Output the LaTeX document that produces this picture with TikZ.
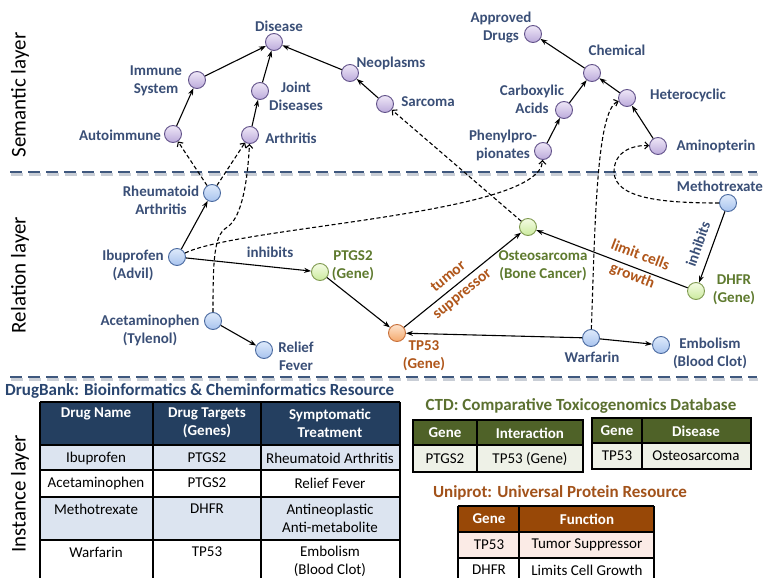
\documentclass[tikz,border=0pt]{standalone}
\usepackage{fontspec}
\setmainfont{Carlito}
\usetikzlibrary{arrows.meta}
\definecolor{lblblue}{HTML}{3A4F77}
\definecolor{lblgreen}{HTML}{5E7A2E}
\definecolor{lblorange}{HTML}{B0561A}
\definecolor{sepblue}{HTML}{3F587E}
\definecolor{sepshadow}{HTML}{C9CED6}
\definecolor{navy}{HTML}{243F60}
\definecolor{navylight}{HTML}{DCE4F0}
\definecolor{olive}{HTML}{4F6228}
\definecolor{olivelight}{HTML}{EEF1E7}
\definecolor{brownhd}{HTML}{984807}
\definecolor{brownlight}{HTML}{FBEBE6}
\definecolor{ttlnavy}{HTML}{2A4670}
\definecolor{ttlolive}{HTML}{5B7030}
\definecolor{ttlbrown}{HTML}{A2521A}
\definecolor{semdraw}{HTML}{62528A}
\definecolor{semtop}{HTML}{EEE7F7}
\definecolor{sembot}{HTML}{BCAADB}
\definecolor{reldraw}{HTML}{4A6AA0}
\definecolor{reltop}{HTML}{DEEAFB}
\definecolor{relbot}{HTML}{A8C3EE}
\definecolor{gendraw}{HTML}{7F9A50}
\definecolor{gentop}{HTML}{F4FCE3}
\definecolor{genbot}{HTML}{CBEA9E}
\definecolor{tpdraw}{HTML}{C8703A}
\definecolor{tptop}{HTML}{FDE3CC}
\definecolor{tpbot}{HTML}{F4A86C}
\tikzset{
  dot/.style={circle, minimum size=17pt, inner sep=0pt, line width=0.9pt},
  sem/.style={dot, draw=semdraw, top color=semtop, bottom color=sembot},
  rel/.style={dot, draw=reldraw, top color=reltop, bottom color=relbot},
  gen/.style={dot, draw=gendraw, top color=gentop, bottom color=genbot},
  tpg/.style={dot, draw=tpdraw, top color=tptop, bottom color=tpbot},
  lbl/.style={font=\fontsize{15}{18}\selectfont\bfseries, text=lblblue, align=center, inner sep=0pt},
  glbl/.style={lbl, text=lblgreen},
  olbl/.style={lbl, text=lblorange},
  elbl/.style={font=\fontsize{15.5}{22}\selectfont\bfseries, text=lblorange, align=center, inner sep=0pt},
  layerlbl/.style={font=\fontsize{21}{24}\selectfont, text=black, rotate=90, inner sep=0pt},
  arr/.style={draw, line width=1.1pt, -{Stealth[length=7pt,width=5pt]}},
  darr/.style={draw, line width=1.1pt, dash pattern=on 4pt off 2.5pt, -{Straight Barb[length=3.5pt,width=7pt]}},
  sepline/.style={draw=sepblue, line width=2.2pt, dash pattern=on 12pt off 6pt},
  sepshade/.style={draw=sepshadow, line width=2.2pt, dash pattern=on 12pt off 6pt},
  cell/.style={font=\fontsize{15}{18}\selectfont, align=center, inner sep=0pt},
  hcell/.style={cell, font=\fontsize{15}{18}\selectfont\bfseries, text=white},
  ttl/.style={font=\fontsize{17}{20}\selectfont\bfseries, inner sep=0pt},
  grid/.style={draw=black, line width=1.2pt}
}
\begin{document}
\begin{tikzpicture}[x=1pt,y=-1pt]
\clip (0,0) rectangle (763,578);
\fill[white] (0,0) rectangle (763,578);

% separators
\draw[sepshade] (11,174.5) -- (758,174.5);
\draw[sepline] (10,172) -- (757,172);
\draw[sepshade] (11,379.5) -- (758,379.5);
\draw[sepline] (10,377) -- (757,377);

% layer labels
\node[layerlbl] (Lsem) at (20,95) {Semantic layer};
\node[layerlbl] (Lrel) at (20,275) {Relation layer};
\node[layerlbl] (Lins) at (20,494) {Instance layer};

% semantic nodes
\node[sem] (disease) at (274,42) {};
\node[sem] (immune) at (197,80) {};
\node[sem] (joint) at (260,91) {};
\node[sem] (autoimm) at (173,134) {};
\node[sem] (arth) at (250,135) {};
\node[sem] (neo) at (350,73) {};
\node[sem] (sarc) at (385,104) {};
\node[sem] (approved) at (533,34) {};
\node[sem] (chem) at (592,73) {};
\node[sem] (carb) at (564,110) {};
\node[sem] (het) at (627,98) {};
\node[sem] (phen) at (543,151) {};
\node[sem] (amin) at (658,146) {};

\node[lbl] (Ldisease) at (279,26) {Disease};
\node[lbl] (Limmune) at (156,81) {Immune\\System};
\node[lbl] (Ljoint) at (296,96) {Joint\\Diseases};
\node[lbl] (Lautoimm) at (120,135) {Autoimmune};
\node[lbl] (Larth) at (291,138) {Arthritis};
\node[lbl] (Lneo) at (391,63) {Neoplasms};
\node[lbl] (Lsarc) at (428,102) {Sarcoma};
\node[lbl] (Lapproved) at (501,28) {Approved\\Drugs};
\node[lbl] (Lchem) at (617,50) {Chemical};
\node[lbl] (Lcarb) at (532,99) {Carboxylic\\Acids};
\node[lbl] (Lhet) at (688,95) {Heterocyclic};
\node[lbl] (Lphen) at (503,145) {Phenylpro-\\pionates};
\node[lbl] (Lamin) at (716,146) {Aminopterin};

\draw[arr] (immune) -- (disease);
\draw[arr] (joint) -- (disease);
\draw[arr] (neo) -- (disease);
\draw[arr] (autoimm) -- (immune);
\draw[arr] (arth) -- (joint);
\draw[arr] (sarc) -- (neo);
\draw[arr] (chem) -- (approved);
\draw[arr] (carb) -- (chem);
\draw[arr] (het) -- (chem);
\draw[arr] (phen) -- (carb);
\draw[arr] (amin) -- (het);

% relation nodes
\node[rel] (ra) at (212,193) {};
\node[rel] (ibu) at (177,257) {};
\node[rel] (acet) at (213,321) {};
\node[rel] (relief) at (264,350) {};
\node[gen] (ptgs) at (320,272) {};
\node[tpg] (tp53) at (397,333) {};
\node[gen] (osteo) at (528,227) {};
\node[rel] (meth) at (728,203) {};
\node[gen] (dhfr) at (696,291) {};
\node[rel] (warf) at (591,338) {};
\node[rel] (embol) at (661,345) {};

\node[lbl] (Lra) at (161,200) {Rheumatoid\\Arthritis};
\node[lbl] (Libu) at (133,265) {Ibuprofen\\(Advil)};
\node[lbl] (Lacet) at (150,330) {Acetaminophen\\(Tylenol)};
\node[lbl] (Lrelief) at (296,356) {Relief\\Fever};
\node[glbl] (Lptgs) at (353,266) {PTGS2\\(Gene)};
\node[olbl] (Ltp53) at (424,356) {TP53\\(Gene)};
\node[glbl] (Losteo) at (543,266) {Osteosarcoma\\(Bone Cancer)};
\node[lbl] (Lmeth) at (720,186) {Methotrexate};
\node[glbl] (Ldhfr) at (734,290) {DHFR\\(Gene)};
\node[lbl] (Lwarf) at (592,357) {Warfarin};
\node[lbl] (Lembol) at (710,353) {Embolism\\(Blood Clot)};
\node[lbl] (Linh1) at (270,252) {inhibits};
\node[lbl, rotate=70.5] (Linh2) at (698,244) {inhibits};

\draw[arr] (ibu) -- (ra);
\draw[arr] (ibu) -- (ptgs);
\draw[arr] (ptgs) -- (tp53);
\draw[arr] (acet) -- (relief);
\draw[arr] (tp53) -- node[elbl, sloped, pos=0.44] {tumor\\suppressor} (osteo);
\draw[arr] (dhfr) -- node[elbl, sloped, pos=0.345, yshift=2pt] {limit cells\\growth} (osteo);
\draw[arr] (meth) -- (dhfr);
\draw[arr] (warf) -- (tp53);
\draw[arr] (warf) -- (embol);

% cross-layer dashed links
\coordinate (bendA) at (226,228);
\coordinate (loopM) at (614,172);
\draw[darr] (ra) -- (autoimm);
\draw[darr] (ra) -- (arth);
\draw[darr] (acet) .. controls (213,260) and (214,236) .. (bendA) .. controls (240,220) and (247,190) .. (arth);
\draw[darr] (ibu) .. controls (240,226) and (540,215) .. (phen);
\draw[darr] (osteo) -- (sarc);
\draw[darr] (warf) .. controls (595,230) and (596,110) .. (het);
\draw[darr] (meth) .. controls (660,203) and (615,198) .. (loopM) .. controls (614,150) and (635,145) .. (amin);

% ---------- DrugBank table ----------
\node[ttl, text=ttlnavy, anchor=west] (T1) at (5,391) {DrugBank: Bioinformatics \& Cheminformatics Resource};
\fill[navy] (40,402) rectangle (400,445);
\fill[navylight] (40,445) rectangle (400,470);
\fill[navylight] (40,497) rectangle (400,540);
\draw[grid] (40,402) -- (40,590);
\draw[grid] (153,402) -- (153,590);
\draw[grid] (261,402) -- (261,590);
\draw[grid] (400,402) -- (400,590);
\draw[grid] (40,402) -- (400,402);
\draw[grid] (40,445) -- (400,445);
\draw[grid] (40,470) -- (400,470);
\draw[grid] (40,497) -- (400,497);
\draw[grid] (40,540) -- (400,540);
\node[hcell] (h11) at (96,414) {Drug Name};
\node[hcell] (h12) at (207,423) {Drug Targets\\(Genes)};
\node[hcell] (h13) at (330,423) {Symptomatic\\Treatment};
\node[cell] (c11) at (96,458) {Ibuprofen};
\node[cell] (c12) at (207,458) {PTGS2};
\node[cell] (c13) at (330,458) {Rheumatoid Arthritis};
\node[cell] (c21) at (96,483) {Acetaminophen};
\node[cell] (c22) at (207,483) {PTGS2};
\node[cell] (c23) at (330,483) {Relief Fever};
\node[cell] (c31) at (96,509) {Methotrexate};
\node[cell] (c32) at (207,509) {DHFR};
\node[cell] (c33) at (330,518) {Antineoplastic\\Anti-metabolite};
\node[cell] (c41) at (96,552) {Warfarin};
\node[cell] (c42) at (207,552) {TP53};
\node[cell] (c43) at (330,561) {Embolism\\(Blood Clot)};

% ---------- CTD tables ----------
\node[ttl, text=ttlolive] (T2) at (581,406) {CTD: Comparative Toxicogenomics Database};
\fill[olive] (413,420) rectangle (583,445);
\fill[olivelight] (413,445) rectangle (583,472);
\draw[grid] (413,420) rectangle (583,472);
\draw[grid] (413,445) -- (583,445);
\draw[grid] (477,420) -- (477,472);
\node[hcell] (d11) at (445,433) {Gene};
\node[hcell] (d12) at (530,433) {Interaction};
\node[cell] (d21) at (445,459) {PTGS2};
\node[cell] (d22) at (530,459) {TP53 (Gene)};

\fill[olive] (592,418) rectangle (751,443);
\fill[olivelight] (592,443) rectangle (751,469);
\draw[grid] (592,418) rectangle (751,469);
\draw[grid] (592,443) -- (751,443);
\draw[grid] (642,418) -- (642,469);
\node[hcell] (e11) at (617,431) {Gene};
\node[hcell] (e12) at (696,431) {Disease};
\node[cell] (e21) at (617,456) {TP53};
\node[cell] (e22) at (696,456) {Osteosarcoma};

% ---------- Uniprot table ----------
\node[ttl, text=ttlbrown] (T3) at (560,493) {Uniprot: Universal Protein Resource};
\fill[brownhd] (458,506) rectangle (654,532);
\fill[brownlight] (458,532) rectangle (654,558);
\draw[grid] (458,506) -- (654,506);
\draw[grid] (458,532) -- (654,532);
\draw[grid] (458,558) -- (654,558);
\draw[grid] (458,506) -- (458,590);
\draw[grid] (519,506) -- (519,590);
\draw[grid] (654,506) -- (654,590);
\node[hcell] (u11) at (489,519) {Gene};
\node[hcell] (u12) at (587,519) {Function};
\node[cell] (u21) at (489,545) {TP53};
\node[cell] (u22) at (587,545) {Tumor Suppressor};
\node[cell] (u31) at (489,570) {DHFR};
\node[cell] (u32) at (587,570) {Limits Cell Growth};
\end{tikzpicture}
\end{document}
